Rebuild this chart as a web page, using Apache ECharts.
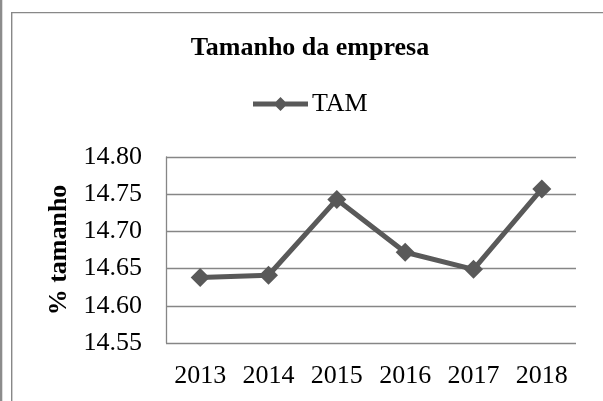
<!DOCTYPE html>
<html>
<head>
<meta charset="utf-8">
<script src="https://cdn.jsdelivr.net/npm/echarts@6/dist/echarts.min.js"></script>
<style>
html,body{margin:0;padding:0;background:#fff;}
#chart{width:603px;height:401px;}
</style>
</head>
<body>
<div id="chart"></div>
<script>
var categories = ['2013', '2014', '2015', '2016', '2017', '2018'];
var tamValues = [14.638, 14.641, 14.743, 14.672, 14.649, 14.757];
var yTicks = [14.55, 14.60, 14.65, 14.70, 14.75, 14.80];
var seriesName = 'TAM';
var titleText = 'Tamanho da empresa';
var yAxisName = '% tamanho';

var FONT = "'Liberation Serif', 'Times New Roman', serif";
var legendIcon = 'path://M0,4.5 L55,4.5 L55,9.5 L0,9.5 Z M27.5,0 L34.5,7 L27.5,14 L20.5,7 Z';
var chart = echarts.init(document.getElementById('chart'), null, {renderer: 'canvas'});
chart.setOption({
  animation: false,
  backgroundColor: '#ffffff',
  title: {
    text: titleText,
    left: 310, textAlign: 'center',
    top: 35,
    padding: 0,
    textStyle: {fontFamily: FONT, fontSize: 26, fontWeight: 'bold', color: '#000'}
  },
  legend: {
    data: [{name: seriesName, icon: legendIcon}],
    left: 253,
    top: 91,
    padding: 0,
    itemWidth: 55,
    itemHeight: 14,
    itemGap: 5,
    itemStyle: {color: '#595959', borderWidth: 0},
    textStyle: {fontFamily: FONT, fontSize: 26, color: '#000', padding: [0,0,0,-1]}
  },
  grid: {left: 166, right: 27, top: 157, bottom: 58, containLabel: false},
  xAxis: {
    type: 'category',
    data: categories,
    boundaryGap: true,
    axisLine: {show: false},
    axisTick: {show: false},
    axisLabel: {fontFamily: FONT, fontSize: 26, color: '#000', margin: 20}
  },
  yAxis: {
    type: 'value',
    min: yTicks[0],
    max: yTicks[yTicks.length - 1],
    interval: 0.05,
    name: yAxisName,
    nameLocation: 'middle',
    nameGap: 88,
    nameTextStyle: {fontFamily: FONT, fontSize: 26, fontWeight: 'bold', color: '#000'},
    axisLine: {show: true, lineStyle: {color: '#868686', width: 1.3}},
    axisTick: {show: false},
    splitLine: {show: true, lineStyle: {color: '#868686', width: 1.3}},
    axisLabel: {
      fontFamily: FONT, fontSize: 26, color: '#000', margin: 24,
      formatter: function (v) { return v.toFixed(2); }
    }
  },
  series: [{
    name: seriesName,
    type: 'line',
    data: tamValues,
    symbol: 'diamond',
    symbolSize: 19,
    lineStyle: {color: '#595959', width: 5},
    itemStyle: {color: '#595959'}
  }],
  graphic: [
    {type: 'rect', shape: {x: 0, y: 0, width: 2.3, height: 401}, style: {fill: '#8c8c8c'}, silent: true},
    {type: 'line', shape: {x1: 11.7, y1: 12.6, x2: 11.7, y2: 401}, style: {stroke: '#888888', lineWidth: 1.4}, silent: true},
    {type: 'line', shape: {x1: 11, y1: 12.6, x2: 603, y2: 12.6}, style: {stroke: '#888888', lineWidth: 1.4}, silent: true}
  ]
});
</script>
</body>
</html>
